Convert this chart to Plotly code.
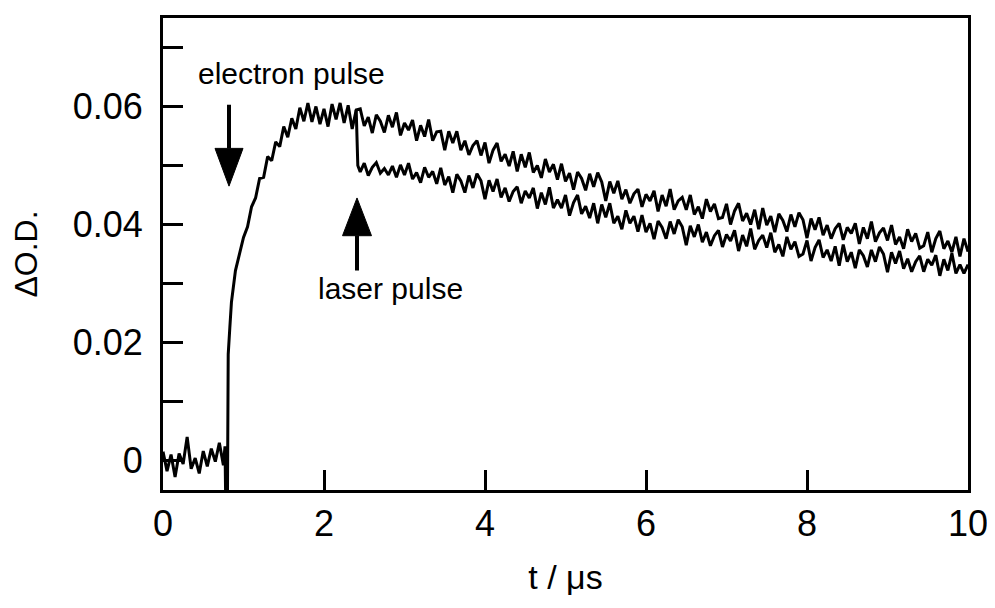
import plotly.graph_objects as go

# ---------------- data ----------------
# trace without the laser pulse (full record); time in microseconds
t_ref = [0.00, 0.05, 0.10, 0.15, 0.20, 0.25, 0.30, 0.35, 0.40, 0.45,
         0.50, 0.55, 0.60, 0.65, 0.70, 0.75, 0.77, 0.78, 0.80, 0.81,
         0.83, 0.85, 0.90, 0.95, 1.00, 1.05, 1.10, 1.15, 1.20, 1.25,
         1.30, 1.35, 1.40, 1.45, 1.50, 1.55, 1.60, 1.65, 1.70, 1.75,
         1.80, 1.85, 1.90, 1.95, 2.00, 2.05, 2.10, 2.15, 2.20, 2.25,
         2.30, 2.35, 2.40, 2.45, 2.50, 2.55, 2.60, 2.65, 2.70, 2.75,
         2.80, 2.85, 2.90, 2.95, 3.00, 3.05, 3.10, 3.15, 3.20, 3.25,
         3.30, 3.35, 3.40, 3.45, 3.50, 3.55, 3.60, 3.65, 3.70, 3.75,
         3.80, 3.85, 3.90, 3.95, 4.00, 4.05, 4.10, 4.15, 4.20, 4.25,
         4.30, 4.35, 4.40, 4.45, 4.50, 4.55, 4.60, 4.65, 4.70, 4.75,
         4.80, 4.85, 4.90, 4.95, 5.00, 5.05, 5.10, 5.15, 5.20, 5.25,
         5.30, 5.35, 5.40, 5.45, 5.50, 5.55, 5.60, 5.65, 5.70, 5.75,
         5.80, 5.85, 5.90, 5.95, 6.00, 6.05, 6.10, 6.15, 6.20, 6.25,
         6.30, 6.35, 6.40, 6.45, 6.50, 6.55, 6.60, 6.65, 6.70, 6.75,
         6.80, 6.85, 6.90, 6.95, 7.00, 7.05, 7.10, 7.15, 7.20, 7.25,
         7.30, 7.35, 7.40, 7.45, 7.50, 7.55, 7.60, 7.65, 7.70, 7.75,
         7.80, 7.85, 7.90, 7.95, 8.00, 8.05, 8.10, 8.15, 8.20, 8.25,
         8.30, 8.35, 8.40, 8.45, 8.50, 8.55, 8.60, 8.65, 8.70, 8.75,
         8.80, 8.85, 8.90, 8.95, 9.00, 9.05, 9.10, 9.15, 9.20, 9.25,
         9.30, 9.35, 9.40, 9.45, 9.50, 9.55, 9.60, 9.65, 9.70, 9.75,
         9.80, 9.85, 9.90, 9.95, 10.00]
od_ref = [0.0015, -0.0018, 0.0010, -0.0028, 0.0012, -0.0006, 0.0040, -0.0014, 0.0004, -0.0022,
          0.0016, -0.0010, 0.0020, -0.0002, 0.0030, -0.0008, 0.0024, -0.0080, -0.0080, 0.0180,
          0.0225, 0.0268, 0.0322, 0.0350,
          0.0378, 0.0396, 0.0430, 0.0445, 0.0478, 0.0480, 0.0515, 0.0508, 0.0540, 0.0532,
          0.0566, 0.0548, 0.0580, 0.0562, 0.0598, 0.0575, 0.0606, 0.0574, 0.0600, 0.0570,
          0.0596, 0.0566, 0.0604, 0.0578, 0.0606, 0.0572, 0.0602, 0.0562, 0.0594,
          0.0596, 0.0567, 0.0582, 0.0555, 0.0586, 0.0575, 0.0556, 0.0585, 0.0565, 0.0590,
          0.0551, 0.0572, 0.0560, 0.0577, 0.0542, 0.0568, 0.0549, 0.0578, 0.0542, 0.0557,
          0.0558, 0.0526, 0.0558, 0.0538, 0.0558, 0.0526, 0.0542, 0.0518, 0.0534, 0.0542,
          0.0517, 0.0539, 0.0504, 0.0526, 0.0538, 0.0507, 0.0519, 0.0499, 0.0524, 0.0490,
          0.0519, 0.0497, 0.0522, 0.0488, 0.0500, 0.0479, 0.0511, 0.0489, 0.0502, 0.0476,
          0.0503, 0.0473, 0.0487, 0.0459, 0.0489, 0.0478, 0.0458, 0.0486, 0.0464, 0.0488,
          0.0472, 0.0440, 0.0473, 0.0453, 0.0474, 0.0443, 0.0459, 0.0436, 0.0452, 0.0460,
          0.0430, 0.0451, 0.0440, 0.0457, 0.0422, 0.0450, 0.0431, 0.0460, 0.0425, 0.0440,
          0.0446, 0.0425, 0.0450, 0.0417, 0.0430, 0.0410, 0.0443, 0.0422, 0.0435, 0.0410,
          0.0412, 0.0435, 0.0400, 0.0423, 0.0436, 0.0406, 0.0419, 0.0400, 0.0425, 0.0392,
          0.0428, 0.0399, 0.0414, 0.0387, 0.0418, 0.0407, 0.0388, 0.0417, 0.0396, 0.0420,
          0.0408, 0.0377, 0.0410, 0.0391, 0.0412, 0.0382, 0.0399, 0.0376, 0.0393, 0.0402,
          0.0374, 0.0395, 0.0385, 0.0402, 0.0367, 0.0395, 0.0376, 0.0405, 0.0371, 0.0386,
          0.0394, 0.0373, 0.0399, 0.0366, 0.0379, 0.0359, 0.0392, 0.0371, 0.0385, 0.0360,
          0.0364, 0.0387, 0.0353, 0.0376, 0.0389, 0.0359, 0.0372, 0.0353, 0.0379, 0.0346,
          0.0376, 0.0354]

# trace with the laser pulse (leaves the first one at 2.4 us)
t_laser = [2.40, 2.42, 2.45, 2.50, 2.55, 2.60, 2.65, 2.70, 2.75,
           2.80, 2.85, 2.90, 2.95, 3.00, 3.05, 3.10, 3.15, 3.20, 3.25,
           3.30, 3.35, 3.40, 3.45, 3.50, 3.55, 3.60, 3.65, 3.70, 3.75,
           3.80, 3.85, 3.90, 3.95, 4.00, 4.05, 4.10, 4.15, 4.20, 4.25,
           4.30, 4.35, 4.40, 4.45, 4.50, 4.55, 4.60, 4.65, 4.70, 4.75,
           4.80, 4.85, 4.90, 4.95, 5.00, 5.05, 5.10, 5.15, 5.20, 5.25,
           5.30, 5.35, 5.40, 5.45, 5.50, 5.55, 5.60, 5.65, 5.70, 5.75,
           5.80, 5.85, 5.90, 5.95, 6.00, 6.05, 6.10, 6.15, 6.20, 6.25,
           6.30, 6.35, 6.40, 6.45, 6.50, 6.55, 6.60, 6.65, 6.70, 6.75,
           6.80, 6.85, 6.90, 6.95, 7.00, 7.05, 7.10, 7.15, 7.20, 7.25,
           7.30, 7.35, 7.40, 7.45, 7.50, 7.55, 7.60, 7.65, 7.70, 7.75,
           7.80, 7.85, 7.90, 7.95, 8.00, 8.05, 8.10, 8.15, 8.20, 8.25,
           8.30, 8.35, 8.40, 8.45, 8.50, 8.55, 8.60, 8.65, 8.70, 8.75,
           8.80, 8.85, 8.90, 8.95, 9.00, 9.05, 9.10, 9.15, 9.20, 9.25,
           9.30, 9.35, 9.40, 9.45, 9.50, 9.55, 9.60, 9.65, 9.70, 9.75,
           9.80, 9.85, 9.90, 9.95, 10.00]
od_laser = [0.0594, 0.0500,
            0.0489, 0.0504, 0.0483, 0.0497, 0.0505, 0.0487, 0.0495, 0.0484, 0.0499, 0.0480,
            0.0501, 0.0484, 0.0504, 0.0477, 0.0488, 0.0471, 0.0497, 0.0480, 0.0490, 0.0469,
            0.0496, 0.0467, 0.0481, 0.0454, 0.0485, 0.0474, 0.0454, 0.0483, 0.0462, 0.0486,
            0.0474, 0.0443, 0.0475, 0.0456, 0.0477, 0.0446, 0.0462, 0.0439, 0.0456, 0.0464,
            0.0436, 0.0457, 0.0445, 0.0462, 0.0427, 0.0454, 0.0434, 0.0463, 0.0428, 0.0442,
            0.0428, 0.0450, 0.0415, 0.0437, 0.0450, 0.0418, 0.0431, 0.0411, 0.0436, 0.0402,
            0.0434, 0.0412, 0.0436, 0.0402, 0.0414, 0.0392, 0.0424, 0.0402, 0.0414, 0.0388,
            0.0416, 0.0387, 0.0402, 0.0375, 0.0406, 0.0395, 0.0376, 0.0405, 0.0384, 0.0408,
            0.0396, 0.0365, 0.0398, 0.0379, 0.0400, 0.0370, 0.0387, 0.0364, 0.0381, 0.0390,
            0.0362, 0.0383, 0.0372, 0.0390, 0.0355, 0.0382, 0.0363, 0.0393, 0.0358, 0.0373,
            0.0382, 0.0361, 0.0386, 0.0353, 0.0366, 0.0346, 0.0379, 0.0358, 0.0371, 0.0346,
            0.0350, 0.0373, 0.0338, 0.0361, 0.0374, 0.0344, 0.0357, 0.0338, 0.0363, 0.0330,
            0.0366, 0.0337, 0.0353, 0.0326, 0.0357, 0.0347, 0.0328, 0.0357, 0.0337, 0.0362,
            0.0350, 0.0319, 0.0353, 0.0334, 0.0355, 0.0325, 0.0342, 0.0320, 0.0337, 0.0347,
            0.0320, 0.0341, 0.0331, 0.0348, 0.0313, 0.0341, 0.0322, 0.0351, 0.0317, 0.0332,
            0.0317, 0.0332]

x_tickvals = [0, 2, 4, 6, 8, 10]
x_ticktext = ["0", "2", "4", "6", "8", "10"]
y_tickvals = [0, 0.01, 0.02, 0.03, 0.04, 0.05, 0.06, 0.07]
y_ticktext = ["0", "", "0.02", "", "0.04", "", "0.06", ""]

# annotation anchors (time in us, O.D.)
electron_label = ("electron pulse", 1.59, 0.0656)
laser_label = ("laser pulse", 2.83, 0.0292)
electron_arrow = dict(t=0.82, tail=0.0603, base=0.0529, tip=0.0465, half=0.174)
laser_arrow = dict(t=2.41, tail=0.0322, base=0.0381, tip=0.0445, half=0.180)

FONT = "Liberation Sans, Arial, Helvetica, sans-serif"

fig = go.Figure()
fig.add_trace(go.Scatter(x=t_ref, y=od_ref, mode="lines",
                         line=dict(color="black", width=3), showlegend=False))
fig.add_trace(go.Scatter(x=t_laser, y=od_laser, mode="lines",
                         line=dict(color="black", width=3), showlegend=False))

shapes = []
for a in (electron_arrow, laser_arrow):
    shapes.append(dict(type="line", xref="x", yref="y", x0=a["t"], x1=a["t"],
                       y0=a["tail"], y1=a["base"], line=dict(color="black", width=4)))
    shapes.append(dict(type="path", xref="x", yref="y",
                       path=f"M {a['t']-a['half']},{a['base']} L {a['t']+a['half']},{a['base']} L {a['t']},{a['tip']} Z",
                       fillcolor="black", line=dict(color="black", width=1)))

annotations = []
for text, x, y in (electron_label, laser_label):
    annotations.append(dict(text=text, x=x, y=y, xref="x", yref="y", showarrow=False,
                            xanchor="center", yanchor="middle",
                            font=dict(family=FONT, size=30, color="black")))

# the page body adds an 8 px offset, so the figure is drawn 8 px smaller
fig.update_layout(
    width=987, height=600,
    margin=dict(l=155, r=27, t=7, b=118),
    paper_bgcolor="white", plot_bgcolor="white",
    font=dict(family=FONT, color="black"),
    shapes=shapes, annotations=annotations,
    xaxis=dict(range=[0, 10], tickvals=x_tickvals, ticktext=x_ticktext,
               ticks="inside", ticklen=20, tickwidth=3, tickcolor="black",
               showline=True, linewidth=3, linecolor="black", mirror=True,
               showgrid=False, zeroline=False, ticklabelstandoff=0,
               tickfont=dict(family=FONT, size=36, color="black"),
               title=dict(text="t / μs", standoff=22,
                          font=dict(family=FONT, size=34, color="black"))),
    yaxis=dict(range=[-0.005, 0.075], tickvals=y_tickvals, ticktext=y_ticktext,
               ticks="inside", ticklen=20, tickwidth=3, tickcolor="black",
               showline=True, linewidth=3, linecolor="black", mirror=True,
               showgrid=False, zeroline=False, ticklabelstandoff=10,
               tickfont=dict(family=FONT, size=36, color="black"),
               title=dict(text="ΔO.D.", standoff=33,
                          font=dict(family=FONT, size=32, color="black"))),
)

fig.write_html("out.html")
